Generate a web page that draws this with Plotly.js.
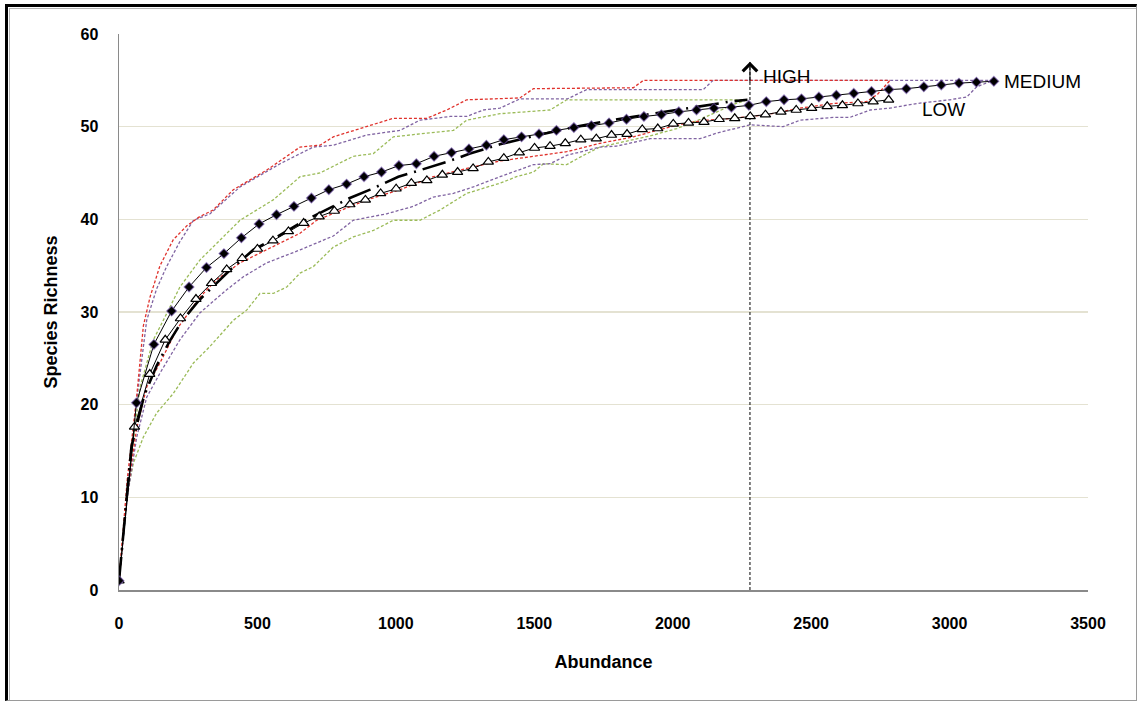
<!DOCTYPE html>
<html>
<head>
<meta charset="utf-8">
<script src="https://cdn.plot.ly/plotly-3.0.1.min.js"></script>
<style>
  html, body { margin: 0; padding: 0; background: #fff; }
  #wrap { position: relative; width: 1138px; height: 702px; overflow: hidden; }
  #plot { position: absolute; left: 0; top: 0; width: 1138px; height: 702px; }
  #frame { position: absolute; left: 5px; top: 4px; width: 1132px; height: 697px; box-sizing: border-box;
           border-top: 3px solid #000; border-left: 3px solid #000; border-right: 1px solid #9a9a9a; border-bottom: 1px solid #9a9a9a; pointer-events: none; }
  #inner { position: absolute; left: 9px; top: 8px; width: 1127px; height: 692px; box-sizing: border-box;
           border-top: 1px solid #b4b4b4; border-left: 1px solid #b4b4b4; pointer-events: none; }
</style>
</head>
<body>
<div id="wrap"><div id="plot"></div><div id="frame"></div><div id="inner"></div></div>
<script>
// Medium: rarefaction curve (diamonds)
const mediumX = [0,63,126,190,253,316,379,442,506,569,632,695,758,822,885,948,1011,1074,1138,1201,1264,1327,1390,1454,1517,1580,1643,1706,1770,1833,1896,1959,2022,2086,2149,2212,2275,2338,2402,2465,2528,2591,2654,2718,2781,2844,2907,2970,3034,3097,3160];
const mediumY = [1,20.2,26.5,30.1,32.7,34.8,36.3,38.0,39.5,40.5,41.4,42.3,43.2,43.8,44.6,45.1,45.8,46.0,46.8,47.2,47.6,48.0,48.6,48.9,49.2,49.6,49.9,50.1,50.4,50.8,51.1,51.3,51.6,51.8,52.0,52.1,52.3,52.7,52.9,53.0,53.2,53.4,53.6,53.8,54.0,54.1,54.3,54.5,54.7,54.8,54.9];

// Low: rarefaction curve (triangles)
const lowX = [0,56,111,167,222,278,334,389,445,500,556,612,667,723,778,834,890,945,1001,1056,1112,1168,1223,1279,1334,1390,1446,1501,1557,1612,1668,1724,1779,1835,1890,1946,2002,2057,2113,2168,2224,2280,2335,2391,2446,2502,2558,2613,2669,2724,2780];
const lowY = [1,17.6,23.3,27.0,29.3,31.4,33.1,34.6,35.8,36.8,37.7,38.7,39.6,40.3,40.9,41.6,42.1,42.8,43.3,43.9,44.2,44.8,45.1,45.5,46.2,46.6,47.2,47.7,47.9,48.2,48.6,48.7,49.1,49.2,49.7,49.8,50.3,50.4,50.5,50.8,50.9,51.1,51.3,51.6,51.8,52.0,52.2,52.3,52.5,52.7,52.9];

// High: rarefaction curve (dash-dot)
const highX = [0,45,91,136,182,227,290,400,485,570,660,732,834,907,1009,1087,1184,1268,1376,1500,1650,1800,1950,2074,2207,2270];
const highY = [1,15.5,21.0,24.2,26.8,29.0,31.3,34.5,36.7,38.1,39.7,40.8,42.3,43.2,44.6,45.3,46.2,47.1,48.1,49.0,50.0,50.8,51.5,52.0,52.7,52.9];

// Confidence bounds - Low (red)
const lowUpperX = [0,30,64,88,112,148,196,245,292,340,413,533,654,726,774,871,990,1111,1184,1256,1376,1448,1497,1858,1894,2785];
const lowUpperY = [1,12,20.9,28.5,31.6,35.0,37.8,39.3,40.3,41.0,43.2,45.3,47.8,48.0,48.9,49.8,50.9,50.9,51.8,52.9,53.0,53.1,54.1,54.2,55.0,55.0];
const lowLowerX = [0,30,64,100,148,208,292,353,437,533,654,714,895,1015,1135,1256,1376,1497,1617,1737,1858,1942,2050,2123,2219,2339,2460,2580,2700,2740,2785];
const lowLowerY = [1,10.5,17.5,21.9,24.5,28.1,31.6,33.5,35.3,36.7,38.5,39.9,42.1,43.2,44.6,45.5,46.3,46.8,47.3,48.2,48.9,49.6,50.4,50.7,50.9,51.3,52.0,52.5,52.7,53.5,55.0];

// Confidence bounds - Medium (purple)
const medUpperX = [0,30,64,100,136,172,220,269,329,437,582,702,774,895,1015,1087,1196,1256,1316,1376,1448,1620,1689,2110,2146,3160];
const medUpperY = [1,11,20.5,29.1,32.5,34.9,37.6,39.9,40.6,43.5,46.0,47.8,48.0,49.1,49.6,50.7,51.1,51.1,51.8,52.0,53.0,53.0,54.0,54.0,55.0,55.0];
const medLowerX = [0,30,64,100,148,220,292,389,449,533,654,774,846,967,1063,1135,1208,1280,1376,1497,1557,1617,1737,1797,1918,2099,2159,2279,2399,2460,2580,2640,2713,2785,2881,3001,3062,3098,3158];
const medLowerY = [1,10,16.5,20.8,23.4,27.0,29.9,32.4,33.8,35.3,36.7,38.2,39.9,40.6,41.4,42.4,42.8,43.5,44.6,45.9,46.0,46.9,47.8,47.9,48.7,48.7,49.3,50.2,50.0,50.7,51.0,51.0,51.8,52.0,52.5,52.9,53.2,54.3,55.0];

// Confidence bounds - High (green)
const highUpperX = [0,30,76,124,160,220,292,365,437,557,654,726,774,846,919,991,1111,1208,1256,1376,1557,1617,2267];
const highUpperY = [1,11,21.9,27.0,29.1,32.7,35.6,37.8,39.9,42.1,44.6,45.0,45.7,46.8,47.1,48.9,49.3,49.6,50.7,51.4,51.8,52.9,52.9];
const highLowerX = [0,28,52,88,136,196,269,329,413,461,509,557,606,654,702,774,846,919,991,1087,1159,1256,1376,1436,1497,1533,1617,1677,1737,1858,1918,2015,2100,2160,2220,2267];
const highLowerY = [1,10.1,13.7,16.5,19.1,21.2,24.5,26.3,29.1,30.2,32.0,32.0,32.7,34.2,34.9,37.0,38.1,38.8,39.9,39.9,41.0,42.8,43.9,44.6,45.1,46.0,45.9,46.9,47.8,48.6,49.0,49.8,50.8,51.6,52.4,52.9];

// Marker for total abundance of HIGH (vertical arrow)
const highTotalX = [2279, 2279];
const highTotalY = [0, 57];

const xTicks = [0,500,1000,1500,2000,2500,3000,3500];
const yTicks = [0,10,20,30,40,50,60];
const labels = [
  {text: 'HIGH', x: 2318, y: 55.4},
  {text: 'MEDIUM', x: 3190, y: 54.9},
  {text: 'LOW', x: 2893, y: 51.8}
];

const RED = '#e0322c', PURPLE = '#8064a2', GREEN = '#9bbb59';
const ciDash = '3px,2px';
const FONT = 'Liberation Sans, Arial, sans-serif';

function ci(x, y, color) {
  return {x: x, y: y, type: 'scatter', mode: 'lines', hoverinfo: 'skip',
          line: {color: color, width: 1.3, dash: ciDash}};
}

const traces = [
  ci(highLowerX, highLowerY, GREEN),
  ci(highUpperX, highUpperY, GREEN),
  ci(medLowerX, medLowerY, PURPLE),
  ci(medUpperX, medUpperY, PURPLE),
  ci(lowLowerX, lowLowerY, RED),
  ci(lowUpperX, lowUpperY, RED),
  {x: highTotalX, y: highTotalY, type: 'scatter', mode: 'lines',
   line: {color: '#000', width: 1, dash: '3px,2px'}},
  {x: highX, y: highY, type: 'scatter', mode: 'lines', name: 'HIGH',
   line: {color: '#000', width: 2.6, dash: '24px,7px,2px,7px'}},
  {x: lowX, y: lowY, type: 'scatter', mode: 'lines+markers', name: 'LOW',
   line: {color: '#000', width: 1},
   marker: {symbol: 'triangle-up', size: 9, color: '#fff', line: {color: '#000', width: 1.2}}},
  {x: mediumX, y: mediumY, type: 'scatter', mode: 'lines+markers', name: 'MEDIUM',
   line: {color: '#000', width: 1},
   marker: {symbol: 'diamond', size: 7.5, color: '#000', line: {color: 'rgba(112,80,170,0.6)', width: 1.2}}}
];

const tickFont = {family: FONT, size: 16, color: '#000', weight: 'bold'};
const annotations = labels.map(l => ({
  text: l.text, x: l.x, y: l.y, xref: 'x', yref: 'y', xanchor: 'left', yanchor: 'middle',
  showarrow: false, font: {family: FONT, size: 19, color: '#000'}
}));
annotations.push({
  x: highTotalX[1], y: highTotalY[1], xref: 'x', yref: 'y', ax: 0, ay: 22, text: '',
  showarrow: true, arrowhead: 4, arrowsize: 2.8, arrowwidth: 1, arrowcolor: '#000'
});

const layout = {
  width: 1138, height: 702,
  margin: {l: 119, r: 50, t: 34, b: 112},
  paper_bgcolor: '#fff', plot_bgcolor: '#fff',
  showlegend: false,
  font: {family: FONT, color: '#000'},
  xaxis: {
    range: [0, 3500], tickvals: xTicks, ticktext: xTicks.map(String),
    showgrid: false, zeroline: false, showline: true, linecolor: '#8a8a8a', linewidth: 1.5,
    ticks: 'outside', ticklen: 18, tickcolor: 'rgba(0,0,0,0)', tickfont: tickFont,
    title: {text: 'Abundance', font: {family: FONT, size: 18, weight: 'bold', color: '#000'}, standoff: 24}
  },
  yaxis: {
    range: [0, 60], tickvals: yTicks, ticktext: yTicks.map(String),
    showgrid: true, gridcolor: '#e4e2d2', gridwidth: 1.2, zeroline: false,
    showline: true, linecolor: '#8a8a8a', linewidth: 1.5,
    ticks: 'outside', ticklen: 16, tickcolor: 'rgba(0,0,0,0)', tickfont: tickFont,
    title: {text: 'Species Richness', font: {family: FONT, size: 18, weight: 'bold', color: '#000'}, standoff: 18}
  },
  annotations: annotations
};

Plotly.newPlot('plot', traces, layout, {displayModeBar: false, staticPlot: true});
</script>
</body>
</html>
